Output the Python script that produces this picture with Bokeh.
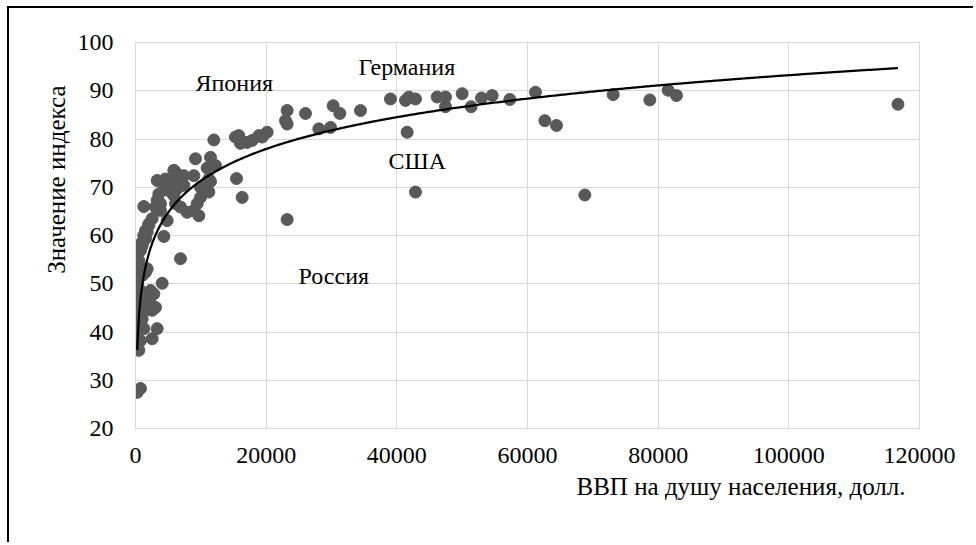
import numpy as np
from bokeh.plotting import figure
from bokeh.models import FixedTicker, Label, ColumnDataSource, BasicTickFormatter, Title
from bokeh.embed import file_html
from bokeh.resources import INLINE

# GDP per capita (USD) and index values
gdp_high = [11990, 15306, 15816, 16071, 17092, 17857, 18878, 19388, 20153, 23214,
            22959, 23214, 26020, 28061, 29847, 30255, 31276, 34439, 15459, 16327,
            23214, 39031, 41327, 41837, 42857, 41582, 42857, 46173, 47449, 47449,
            50000, 51378, 52959, 54592, 57296, 61224, 62653, 64439, 68776, 73112,
            78724, 81531, 82806, 116700]
idx_high = [79.8, 80.4, 80.7, 79.1, 79.3, 79.7, 80.7, 80.4, 81.4, 85.9,
            83.8, 83.1, 85.3, 82.1, 82.4, 86.9, 85.3, 85.9, 71.8, 67.9,
            63.3, 88.3, 88.0, 88.7, 88.3, 81.4, 69.0, 88.7, 88.7, 86.7,
            89.4, 86.7, 88.5, 89.0, 88.2, 89.7, 83.8, 82.8, 68.4, 89.2,
            88.1, 90.1, 89.0, 87.2]

gdp_mid = [9184, 11480, 12245, 10970, 11225, 11480, 11225, 9949, 8929, 6122,
           3316, 4337, 5102, 6378, 7398, 9949, 9439, 8929, 7908, 9694,
           3571, 3316, 3827, 3061, 3827, 5867, 6122, 6888, 1276, 4847,
           2551, 2041, 1786, 1531, 1020, 765, 4337, 6888, 4592, 5612,
           7398, 6888, 5867]
idx_mid = [75.9, 76.2, 74.5, 74.0, 71.7, 71.2, 69.0, 70.0, 72.4, 73.1,
           71.4, 70.4, 69.3, 69.7, 70.4, 67.9, 66.6, 65.2, 64.8, 64.1,
           68.6, 67.3, 66.6, 65.9, 65.2, 68.3, 66.6, 65.9, 66.0, 63.1,
           63.5, 62.1, 60.7, 59.3, 57.9, 56.9, 59.8, 55.2, 71.7, 71.4,
           72.4, 71.0, 73.5]

gdp_low = [510, 765, 1020, 4082, 300, 510, 2296, 2806, 1786, 765,
           1531, 2296, 3061, 2551, 1531, 510, 255, 1020, 510, 1276,
           3316, 255, 2551, 250, 765, 510, 255, 765, 2036, 1531,
           1276, 1020, 765, 510, 255, 1531, 1786]
idx_low = [53.8, 52.7, 51.7, 50.1, 50.0, 49.0, 48.6, 47.9, 47.2, 46.9,
           46.2, 45.8, 45.1, 44.5, 44.5, 45.1, 43.8, 42.7, 41.7, 40.7,
           40.7, 40.0, 38.6, 38.6, 38.2, 36.2, 27.5, 28.3, 62.4, 61.0,
           60.0, 58.6, 57.2, 54.8, 53.1, 52.4, 53.1]

gdp = gdp_high + gdp_mid + gdp_low
index_vals = idx_high + idx_mid + idx_low

# logarithmic trend line y = a*ln(x) + b, coefficients
trend_coef = [9.5, -16.15]

country_names = ["Япония", "Германия", "США", "Россия"]
country_x = [9184, 34133, 38724, 24949]
country_y = [91.7, 95.0, 75.5, 51.7]

x_ticks = [0, 20000, 40000, 60000, 80000, 100000, 120000]
y_ticks = [20, 30, 40, 50, 60, 70, 80, 90, 100]

FONT = "Liberation Serif"
FS = "24px"

p = figure(width=966, height=536, output_backend="svg", toolbar_location=None,
           x_range=(0, 120000), y_range=(20, 100),
           min_border_left=126, min_border_right=56, min_border_top=34, min_border_bottom=116)
p.margin = (6, 0, 0, 7)
p.styles = {"border-top": "2px solid #000000", "border-left": "2px solid #000000"}

p.outline_line_color = "#d9d9d9"
p.xgrid.grid_line_color = "#d9d9d9"
p.ygrid.grid_line_color = "#d9d9d9"
p.xaxis.ticker = FixedTicker(ticks=x_ticks)
p.yaxis.ticker = FixedTicker(ticks=y_ticks)
p.xgrid.ticker = FixedTicker(ticks=x_ticks)
p.ygrid.ticker = FixedTicker(ticks=y_ticks)
p.xaxis.formatter = BasicTickFormatter(use_scientific=False)
for ax in (p.xaxis, p.yaxis):
    ax.axis_line_color = "#d9d9d9"
    ax.major_tick_line_color = None
    ax.minor_tick_line_color = None
    ax.major_tick_out = 0
    ax.major_tick_in = 0
    ax.major_label_text_font = FONT
    ax.major_label_text_font_size = FS
    ax.major_label_text_font_style = "normal"
    ax.major_label_text_color = "#000000"
p.xaxis.major_label_standoff = 19
p.yaxis.major_label_standoff = 22

src = ColumnDataSource(dict(x=gdp, y=index_vals))
p.scatter("x", "y", source=src, size=12, fill_color="#595959", line_color="#595959")

gx = np.array(gdp, dtype=float)
tx = np.linspace(gx.min(), gx.max(), 400)
p.line(tx, trend_coef[0] * np.log(tx) + trend_coef[1], line_color="#000000", line_width=2.25)

for name, cx, cy in zip(country_names, country_x, country_y):
    p.add_layout(Label(x=cx, y=cy, text=name, text_font=FONT, text_font_size=FS,
                       text_align="left", text_baseline="middle", text_color="#000000"))

# axis titles as side titles, aligned like the reference
xt = Title(text="ВВП на душу населения, долл.", align="right", offset=14,
           text_font=FONT, text_font_size="25px", text_font_style="normal",
           text_color="#000000", standoff=10)
p.add_layout(xt, "below")
yt = Title(text="Значение индекса", align="right", offset=43,
           text_font=FONT, text_font_size="25px", text_font_style="normal",
           text_color="#000000", standoff=10)
p.add_layout(yt, "left")

open("out.html", "w").write(file_html(p, INLINE))
